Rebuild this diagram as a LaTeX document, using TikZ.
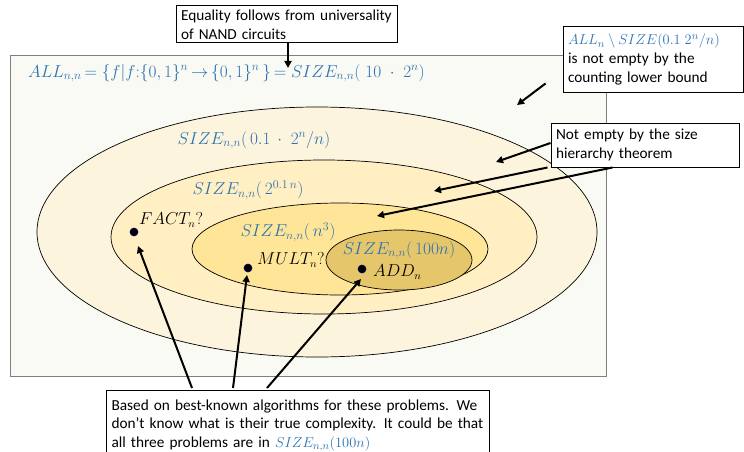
\documentclass[tikz,border=0pt]{standalone}
\usepackage{amsmath}
\usepackage{fontspec}
\setmainfont{Carlito}
\usetikzlibrary{arrows.meta,calc}
\definecolor{mblue}{HTML}{2B72B4}
\definecolor{bgfill}{HTML}{F9FAF4}
\definecolor{bgline}{HTML}{7F7F7F}
\definecolor{ellA}{HTML}{FDF4DE}
\definecolor{ellB}{HTML}{FFEFC2}
\definecolor{ellC}{HTML}{FFE597}
\definecolor{ellD}{HTML}{E6C66B}
\tikzset{
  ell/.style={draw=black, line width=0.7pt},
  callout/.style={draw=black, line width=1pt, fill=white, align=left, inner xsep=5pt, inner ysep=0pt,
    font=\fontsize{15.3}{18.6}\selectfont},
  mlabel/.style={text=mblue, font=\fontsize{17}{20}\selectfont, inner sep=0pt},
  toplabel/.style={text=mblue, font=\fontsize{16.5}{19}\selectfont, inner sep=0pt},
  plabel/.style={text=black, font=\fontsize{16}{18}\selectfont, inner sep=0pt},
  ptr/.style={draw=black, line width=2pt, -{Triangle[length=7pt,width=7pt]}},
  probdot/.style={circle, fill=black, draw=blue!40!black, line width=0.6pt, inner sep=0pt, minimum size=8pt}
}
\begin{document}
\begin{tikzpicture}[x=1pt,y=-1pt]
\clip (0,0) rectangle (744,452);
% background rectangle
\draw[draw=bgline, fill=bgfill, line width=1pt] (10,56) rectangle (606,376);
% ellipses
\draw[ell, fill=ellA] (317,232) ellipse [x radius=280, y radius=125];
\draw[ell, fill=ellB] (324,237) ellipse [x radius=213, y radius=77];
\draw[ell, fill=ellC] (340,249) ellipse [x radius=148, y radius=46];
\draw[ell, fill=ellD] (399,260) ellipse [x radius=73, y radius=30];

% labels
\node[toplabel, anchor=west] (all) at (28,73) {$ALL_{n,n}\mkern-2mu = \{ f|f{:}\{0,1\}^n\mkern-2mu \to\mkern-2mu \{0,1\}^n\,\}\mkern-2mu = SIZE_{n,n}(\;10\;\cdot\; 2^n)$};
\node[mlabel] (s1) at (254,140) {$SIZE_{n,n}(\,0.1\,\cdot\; 2^n/n)$};
\node[mlabel] (s2) at (248,190) {$SIZE_{n,n}(\,2^{0.1\,n})$};
\node[mlabel] (s3) at (288,232) {$SIZE_{n,n}(\,n^3)$};
\node[mlabel] (s4) at (399,250) {$SIZE_{n,n}(\,100n)$};

% problems
\node[probdot] (dfact) at (134,232) {};
\node[probdot] (dmult) at (248,268) {};
\node[probdot] (dadd) at (362,269) {};
\node[plabel, anchor=west] (fact) at (139,220) {$FACT_n?$};
\node[plabel, anchor=west] (mult) at (257,260) {$MULT_n?$};
\node[plabel, anchor=west] (add) at (373,272) {$ADD_n$};

% callout boxes
\node[callout, minimum width=221pt, minimum height=37pt, text width=211pt] (eq) at (286.5,24.5)
  {Equality follows from universality\\of NAND circuits};
\node[callout, minimum width=180pt, minimum height=65pt, text width=170pt] (cnt) at (653,59.5)
  {\textcolor{mblue}{$ALL_n\setminus SIZE(0.1\;2^n/n)$}\\is not empty by the\\counting lower bound};
\node[callout, minimum width=188pt, minimum height=44pt, text width=178pt] (hier) at (645,145)
  {Not empty by the size\\hierarchy theorem};
\node[callout, anchor=north west, minimum width=383pt, minimum height=70pt, text width=373pt, inner ysep=3pt] (bot) at (106,390)
  {Based on best-known algorithms for these problems. We\\don’t know what is their true complexity. It could be that\\all three problems are in \textcolor{mblue}{$SIZE_{n,n}(100n)$}};

% arrow targets
\coordinate (teq) at (288,68);
\coordinate (tcnt) at (517,105);
\coordinate (th1) at (496,162);
\coordinate (th2) at (434,191);
\coordinate (th3) at (377,216);
\coordinate (tfact) at (138,246);
\coordinate (tmult) at (247,275);
\coordinate (tadd) at (361,279);

% arrows
\draw[ptr] (eq.south -| teq) -- (teq);
\draw[ptr] ($(cnt.south west)+(-17,-9)$) -- (tcnt);
\draw[ptr] ($(hier.west)+(0,-2)$) -- (th1);
\draw[ptr] ($(hier.south west)+(-3,0)$) -- (th2);
\draw[ptr] ($(hier.south west)+(62,0)$) -- (th3);
\draw[ptr] ($(bot.north west)+(86,-2)$) -- (tfact);
\draw[ptr] ($(bot.north west)+(127,-2)$) -- (tmult);
\draw[ptr] ($(bot.north west)+(161,-2)$) -- (tadd);
\end{tikzpicture}
\end{document}
